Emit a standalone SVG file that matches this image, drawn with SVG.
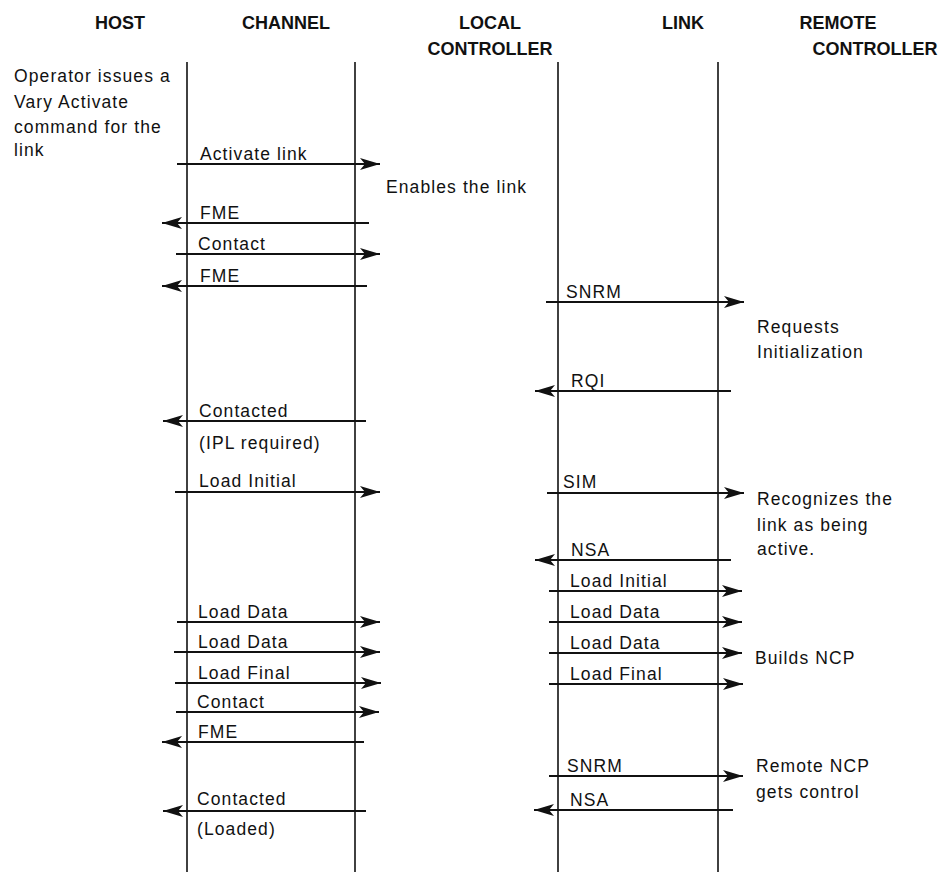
<svg xmlns="http://www.w3.org/2000/svg" width="941" height="872" viewBox="0 0 941 872">
<style>
.hdr{font-family:"Liberation Sans",Arial,sans-serif;font-weight:bold;font-size:18px;fill:#111;text-anchor:middle}
.t{font-family:"Liberation Sans",Arial,sans-serif;font-size:17.5px;fill:#111;letter-spacing:1.1px}
.life{stroke:#111;stroke-width:1.6;fill:none}
.msg{stroke:#111;stroke-width:2;fill:none;marker-end:url(#ah)}
</style>
<defs>
<marker id="ah" markerUnits="userSpaceOnUse" markerWidth="22" markerHeight="14" refX="20" refY="6" orient="auto">
<path d="M0,0 L20,6 L0,12 L5,6 Z" fill="#111"/>
</marker>
</defs>
<g id="host">
<text class="hdr" x="120" y="29">HOST</text>
<line class="life" x1="187" y1="62" x2="187" y2="872"/>
<text class="t" x="14" y="82">Operator issues a</text>
<text class="t" x="14" y="108">Vary Activate</text>
<text class="t" x="14" y="133">command for the</text>
<text class="t" x="14" y="156">link</text>
</g>
<g id="channel">
<text class="hdr" x="286" y="29">CHANNEL</text>
<line class="life" x1="355" y1="62" x2="355" y2="872"/>
</g>
<g id="local-controller">
<text class="hdr" x="490" y="29">LOCAL</text>
<text class="hdr" x="490" y="55">CONTROLLER</text>
<text class="t" x="386" y="193">Enables the link</text>
</g>
<g id="link">
<text class="hdr" x="683" y="29">LINK</text>
<line class="life" x1="558" y1="62" x2="558" y2="872"/>
<line class="life" x1="718" y1="62" x2="718" y2="872"/>
</g>
<g id="remote-controller">
<text class="hdr" x="838" y="29">REMOTE</text>
<text class="hdr" x="875" y="55">CONTROLLER</text>
<text class="t" x="757" y="333">Requests</text>
<text class="t" x="757" y="358">Initialization</text>
<text class="t" x="757" y="505">Recognizes the</text>
<text class="t" x="757" y="531">link as being</text>
<text class="t" x="757" y="555">active.</text>
<text class="t" x="755" y="664">Builds NCP</text>
<text class="t" x="756" y="772">Remote NCP</text>
<text class="t" x="756" y="798">gets control</text>
</g>
<g id="connectors">
<line class="msg" x1="177" y1="164" x2="380" y2="164"/>
<text class="t" x="200" y="160">Activate link</text>
<line class="msg" x1="369" y1="223" x2="162" y2="223"/>
<text class="t" x="200" y="219">FME</text>
<line class="msg" x1="176" y1="254" x2="380" y2="254"/>
<text class="t" x="198" y="250">Contact</text>
<line class="msg" x1="367" y1="286" x2="162" y2="286"/>
<text class="t" x="200" y="282">FME</text>
<line class="msg" x1="546" y1="302" x2="744" y2="302"/>
<text class="t" x="566" y="298">SNRM</text>
<line class="msg" x1="731" y1="391" x2="535" y2="391"/>
<text class="t" x="571" y="387">RQI</text>
<line class="msg" x1="366" y1="421" x2="163" y2="421"/>
<text class="t" x="199" y="417">Contacted</text>
<text class="t" x="199" y="449">(IPL required)</text>
<line class="msg" x1="175" y1="492" x2="380" y2="492"/>
<text class="t" x="199" y="487">Load Initial</text>
<line class="msg" x1="547" y1="493" x2="744" y2="493"/>
<text class="t" x="563" y="488">SIM</text>
<line class="msg" x1="731" y1="560" x2="535" y2="560"/>
<text class="t" x="571" y="556">NSA</text>
<line class="msg" x1="549" y1="591" x2="742" y2="591"/>
<text class="t" x="570" y="587">Load Initial</text>
<line class="msg" x1="177" y1="622" x2="380" y2="622"/>
<text class="t" x="198" y="618">Load Data</text>
<line class="msg" x1="549" y1="622" x2="742" y2="622"/>
<text class="t" x="570" y="618">Load Data</text>
<line class="msg" x1="174" y1="652" x2="380" y2="652"/>
<text class="t" x="198" y="648">Load Data</text>
<line class="msg" x1="549" y1="653" x2="742" y2="653"/>
<text class="t" x="570" y="649">Load Data</text>
<line class="msg" x1="175" y1="683" x2="381" y2="683"/>
<text class="t" x="198" y="679">Load Final</text>
<line class="msg" x1="549" y1="684" x2="743" y2="684"/>
<text class="t" x="570" y="680">Load Final</text>
<line class="msg" x1="176" y1="712" x2="379" y2="712"/>
<text class="t" x="197" y="708">Contact</text>
<line class="msg" x1="364" y1="742" x2="162" y2="742"/>
<text class="t" x="198" y="738">FME</text>
<line class="msg" x1="549" y1="776" x2="743" y2="776"/>
<text class="t" x="567" y="772">SNRM</text>
<line class="msg" x1="366" y1="811" x2="163" y2="811"/>
<text class="t" x="197" y="805">Contacted</text>
<text class="t" x="197" y="835">(Loaded)</text>
<line class="msg" x1="733" y1="810" x2="534" y2="810"/>
<text class="t" x="570" y="806">NSA</text>
</g>
</svg>
